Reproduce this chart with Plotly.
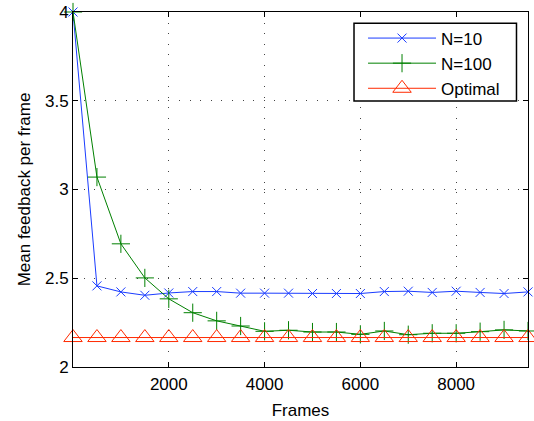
import plotly.graph_objects as go

frames = [0, 500, 1000, 1500, 2000, 2500, 3000, 3500, 4000, 4500, 5000,
          5500, 6000, 6500, 7000, 7500, 8000, 8500, 9000, 9500]
n10 = [4.0, 2.457, 2.423, 2.404, 2.417, 2.425, 2.425, 2.416, 2.416, 2.416, 2.414,
       2.414, 2.414, 2.425, 2.427, 2.420, 2.427, 2.420, 2.414, 2.423]
n100 = [4.0, 3.07, 2.694, 2.502, 2.384, 2.306, 2.26, 2.231, 2.201, 2.207, 2.197,
        2.197, 2.184, 2.203, 2.182, 2.19, 2.19, 2.199, 2.209, 2.203]
optimal = [2.166] * len(frames)

font = "Liberation Sans, Arial, sans-serif"
fsize = 17

fig = go.Figure()
fig.add_trace(go.Scatter(x=frames, y=n10, name="N=10", mode="lines+markers",
                         line=dict(color="#1a3cff", width=1),
                         marker=dict(symbol="x-thin", size=9, line=dict(color="#1a3cff", width=1)),
                         cliponaxis=False))
fig.add_trace(go.Scatter(x=frames, y=n100, name="N=100", mode="lines+markers",
                         line=dict(color="#008000", width=1),
                         marker=dict(symbol="cross-thin", size=13, line=dict(color="#008000", width=1)),
                         cliponaxis=False))
fig.add_trace(go.Scatter(x=frames, y=optimal, name="Optimal", mode="lines+markers",
                         line=dict(color="#ff2a00", width=1),
                         marker=dict(symbol="triangle-up-open", size=16, color="#ff2a00",
                                     line=dict(color="#ff2a00", width=1)),
                         cliponaxis=False))

axis_common = dict(showline=True, linecolor="black", linewidth=1, mirror="ticks",
                   ticks="inside", ticklen=5, tickcolor="black",
                   showgrid=True, gridcolor="#444444", griddash="1px,9.6px", gridwidth=1,
                   zeroline=False, automargin=False, ticklabeloverflow="allow",
                   tickfont=dict(family=font, size=fsize, color="black"))

fig.update_xaxes(range=[0, 9500], tickvals=[2000, 4000, 6000, 8000],
                 title=dict(text="Frames", font=dict(family=font, size=fsize, color="black"), standoff=10),
                 ticklabelstandoff=2,
                 **axis_common)
fig.update_yaxes(range=[2, 4], tickvals=[2, 2.5, 3, 3.5, 4], ticktext=["2", "2.5", "3", "3.5", "4"],
                 title=dict(text="Mean feedback per frame", font=dict(family=font, size=fsize, color="black"), standoff=10),
                 **axis_common)

# legend frame
fig.add_shape(type="rect", xref="paper", yref="paper",
              x0=0.6176, x1=0.9747, y0=0.749, y1=0.968,
              line=dict(color="black", width=1.5), fillcolor="white", layer="above")

fig.update_layout(
    width=534, height=421,
    margin=dict(l=73, r=6, t=12, b=54, autoexpand=False),
    plot_bgcolor="white", paper_bgcolor="white",
    font=dict(family=font, size=fsize, color="black"),
    legend=dict(x=0.6374, y=0.976, xanchor="left", yanchor="top",
                bgcolor="rgba(0,0,0,0)", borderwidth=0,
                itemwidth=68, tracegroupgap=0,
                font=dict(family=font, size=fsize, color="black")),
    showlegend=True,
)

fig.write_html("out.html",
               config={"displayModeBar": False},
               post_script="document.body.style.margin='0';document.body.style.overflow='hidden';")
